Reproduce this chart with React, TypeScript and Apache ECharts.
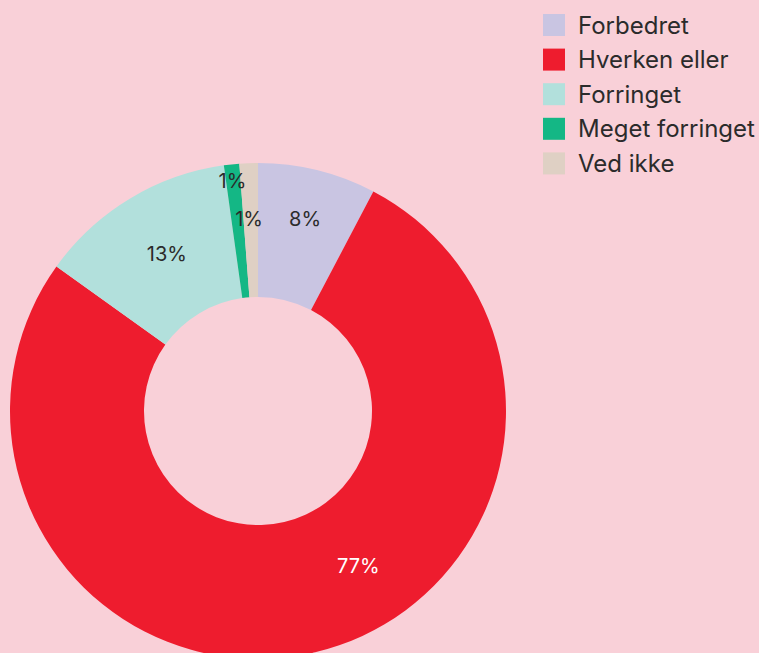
import React, { useEffect, useRef } from "react";
import * as echarts from "echarts";

const categories = ["Forbedret", "Hverken eller", "Forringet", "Meget forringet", "Ved ikke"];
const values = [7.7, 77.2, 12.9, 1.0, 1.2];
const colors = ["#c9c5e2", "#ee1c2e", "#b2e0dc", "#14b785", "#dfd0c4"];
const labelColors = ["#2b2b2b", "#ffffff", "#2b2b2b", "#2b2b2b", "#2b2b2b"];
const labelOffsets: [number, number][] = [[3, -13], [58, -24], [4, 0], [-6, -47], [-2, -8]];

export default function App() {
  const ref = useRef<HTMLDivElement>(null);
  useEffect(() => {
    document.body.style.margin = "0";
    const chart = echarts.init(ref.current!, null, { renderer: "svg" });
    chart.setOption({
      animation: false,
      backgroundColor: "#f9d0d8",
      textStyle: { fontFamily: "Inter" },
      legend: {
        orient: "vertical",
        left: 543,
        top: 13,
        padding: 0,
        icon: "rect",
        itemWidth: 22,
        itemHeight: 22,
        itemGap: 10.6,
        textStyle: { fontSize: 24, lineHeight: 22, color: "#2b2b2b", fontFamily: "Inter", padding: [0, 0, 0, 8] },
        data: categories,
      },
      series: [
        {
          type: "pie",
          center: [258, 411],
          radius: [114, 248],
          startAngle: 90,
          clockwise: true,
          avoidLabelOverlap: false,
          label: {
            show: true,
            position: "inside",
            fontSize: 20,
            fontFamily: "Inter",
            formatter: (p: any) => Math.round(p.value) + "%",
          },
          labelLine: { show: false },
          emphasis: { disabled: true },
          data: categories.map((name, i) => ({
            name,
            value: values[i],
            itemStyle: { color: colors[i] },
            label: { color: labelColors[i], offset: labelOffsets[i] },
          })),
        },
      ],
    });
    return () => chart.dispose();
  }, []);
  return <div ref={ref} style={{ width: 759, height: 653 }} />;
}
